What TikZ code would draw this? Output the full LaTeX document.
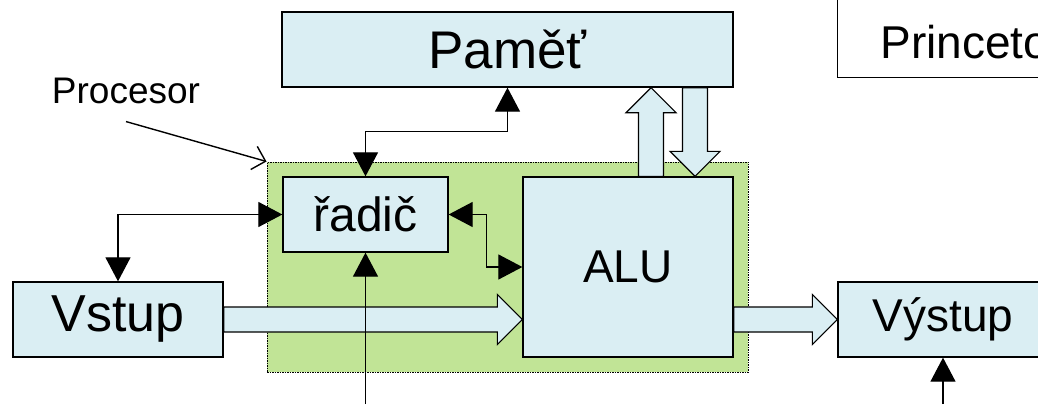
\documentclass[tikz,border=0pt]{standalone}
\usepackage{fontspec}
\setmainfont{Liberation Sans}
\usetikzlibrary{arrows.meta,calc}
\definecolor{boxblue}{RGB}{218,238,243}
\definecolor{cpugreen}{RGB}{193,228,150}

\begin{document}
\begin{tikzpicture}
      [x=1pt, y=-1pt,
      >={Triangle[length=24pt,width=25pt]},
      box/.style={draw, line width=1.3pt, fill=boxblue, inner sep=0pt},
      link/.style={line width=1.2pt},
      fatarrow/.style={draw, line width=1.2pt, fill=boxblue,
        to path={let \p1=(\tikztostart), \p2=(\tikztotarget),
          \p3=($(\p2)!25pt!(\p1)$) in
          ($(\p1)!12.5pt!90:(\p2)$) -- ($(\p3)!12.5pt!90:(\p2)$)
          -- ($(\p3)!25pt!90:(\p2)$) -- (\p2)
          -- ($(\p3)!25pt!-90:(\p2)$) -- ($(\p3)!12.5pt!-90:(\p2)$)
          -- ($(\p1)!12.5pt!-90:(\p2)$) -- cycle}}]

      \useasboundingbox (0,0) rectangle (1038,404);

      % processor area
      \node[draw, line width=1pt, dash pattern=on 1.5pt off 1pt, fill=cpugreen,
        minimum width=481pt, minimum height=210pt] (cpu) at (507.5,267) {};

      \node[box, minimum width=451pt, minimum height=75pt,
        font=\fontsize{53}{60}\selectfont] (pamet) at (507.5,49.5) {Paměť};
      \node[draw, line width=1pt, fill=white, anchor=south west, align=center,
        minimum width=280pt, inner ysep=19pt,
        font=\fontsize{46}{59}\selectfont] (arch) at (837,78) {Architektura\\Princeton};
      \node[box, minimum width=165pt, minimum height=75pt,
        font=\fontsize{48}{56}\selectfont] (radic) at (365.5,214.5) {řadič};
      \node[box, minimum width=210pt, minimum height=180pt,
        font=\fontsize{46}{54}\selectfont] (alu) at (628,267) {ALU};
      \node[box, minimum width=210pt, minimum height=75pt,
        font=\fontsize{52}{60}\selectfont] (vstup) at (118,319.5) {Vstup};
      \node[box, minimum width=210pt, minimum height=75pt,
        font=\fontsize{46}{54}\selectfont] (vystup) at (943,319.5) {Výstup};

      \node[anchor=base, inner sep=0pt, font=\fontsize{37}{44}\selectfont] (proc) at (126,103) {Procesor};
      \draw[line width=1.4pt, -{Straight Barb[length=12pt,width=24pt]}]
        ($(proc.south)+(0,18)$) -- (cpu.north west);

      % data paths
      \coordinate (aluup) at ($(alu.north)+(23,0)$);
      \coordinate (aludown) at ($(alu.north)+(67,0)$);
      \draw[fatarrow] (vstup.east) to (vstup.east -| alu.west);
      \draw[fatarrow] (alu.east |- vystup.west) to (vystup.west);
      \draw[fatarrow] (aluup) to (aluup |- pamet.south);
      \draw[fatarrow] (aludown |- pamet.south) to (aludown);

      % control lines
      \coordinate (ctlin) at (365.5,404);
      \coordinate (outin) at (943,404);
      \draw[link, <->] (radic.north) -- ++(0,-45) -| (pamet.south);
      \draw[link, <->] (vstup.north) |- (radic.west);
      \draw[link, <->] (radic.east) -- ++(38,0) |- (alu.west);
      \draw[link, ->] (ctlin) -- (radic.south);
      \draw[link, ->] (outin) -- (vystup.south);
    \end{tikzpicture}
\end{document}
